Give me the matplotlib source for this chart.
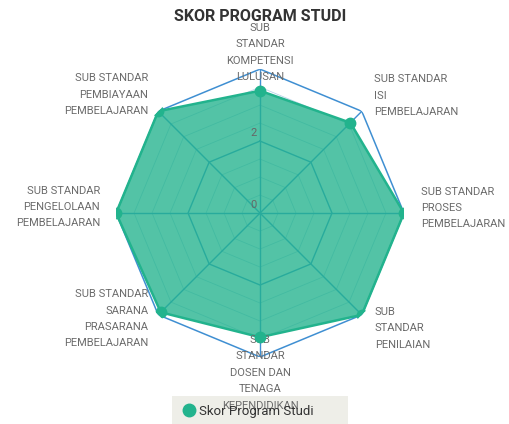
import numpy as np
import matplotlib.pyplot as plt
from matplotlib.lines import Line2D
from matplotlib.patches import Rectangle

plt.rcParams['font.family'] = ['Roboto', 'DejaVu Sans']

# data
labels = [
    "SUB\nSTANDAR\nKOMPETENSI\nLULUSAN",
    "SUB STANDAR\nISI\nPEMBELAJARAN",
    "SUB STANDAR\nPROSES\nPEMBELAJARAN",
    "SUB\nSTANDAR\nPENILAIAN",
    "SUB\nSTANDAR\nDOSEN DAN\nTENAGA\nKEPENDIDIKAN",
    "SUB STANDAR\nSARANA\nPRASARANA\nPEMBELAJARAN",
    "SUB STANDAR\nPENGELOLAAN\nPEMBELAJARAN",
    "SUB STANDAR\nPEMBIAYAAN\nPEMBELAJARAN",
]
scores = [3.4, 3.55, 4.0, 4.0, 3.45, 3.9, 4.0, 4.0]
series_name = "Skor Program Studi"
tick_values = [0, 2]
r_max = 4

# label placement (offset in pixels from outer vertex, alignment)
label_pos = [
    ((0, -13), 'center', 'bottom'),
    ((12, -6), 'left', 'bottom'),
    ((17, 5), 'left', 'center'),
    ((13, 8), 'left', 'top'),
    ((0, 22), 'center', 'top'),
    ((-10, -4), 'right', 'center'),
    ((-16, 6), 'right', 'center'),
    ((-10, -5), 'right', 'bottom'),
]

teal = '#22b38d'
blue = '#3f8fd2'

fig = plt.figure(figsize=[5.1, 4.24], dpi=100)

# legend background box (behind everything)
fig.patches.append(Rectangle((172 / 510, 0), 176 / 510, 28 / 424,
                             transform=fig.transFigure, facecolor='#eeeee8',
                             edgecolor='none', zorder=-1))

ax = fig.add_axes([0.2275, 0.158, 0.5647, 0.679], projection='polar')
ax.set_theta_zero_location('N')
ax.set_theta_direction(-1)
ax.set_ylim(0, r_max)
ax.grid(False)
ax.set_xticks([])
ax.set_yticks([])
ax.spines['polar'].set_visible(False)
ax.patch.set_alpha(0)

n = len(labels)
theta = np.linspace(0, 2 * np.pi, n, endpoint=False)
tc = np.append(theta, theta[0])

# polygon grid
for r in np.arange(0.5, r_max, 0.5):
    c = blue if r % 2 == 0 else '#b9d4ea'
    lw = 1.0 if r % 2 == 0 else 0.6
    ax.plot(tc, [r] * (n + 1), color=c, lw=lw, zorder=1)
ax.plot(tc, [r_max] * (n + 1), color=blue, lw=1.1, zorder=1)
for t in theta:
    ax.plot([t, t], [0, r_max], color=blue, lw=1.0, zorder=1)

# data
sc = scores + scores[:1]
ax.fill(tc, sc, color=teal, alpha=0.78, zorder=2, lw=0)
ax.plot(tc, sc, color=teal, lw=1.8, zorder=3)
ax.plot(theta, scores, 'o', color=teal, ms=7.5, zorder=4)

# tick labels
for v in tick_values:
    ax.annotate(str(v), xy=(0, v), xytext=(-3, 3), textcoords='offset pixels',
                ha='right', va='bottom', fontsize=8, color='#666666', zorder=5)

# axis labels
for t, lab, (off, ha, va) in zip(theta, labels, label_pos):
    ax.annotate(lab, xy=(t, r_max), xytext=off, textcoords='offset pixels',
                ha=ha, va=va, fontsize=8, color='#6b6b6b', linespacing=1.8,
                annotation_clip=False)

fig.text(0.51, 0.962, "SKOR PROGRAM STUDI", ha='center', va='center',
         fontsize=11.5, fontweight='bold', color='#333333')

handle = Line2D([], [], marker='o', ls='none', color=teal, ms=9)
leg = fig.legend([handle], [series_name], loc='center',
                 bbox_to_anchor=(0.487, 13 / 424), frameon=False,
                 fontsize=9.5, handletextpad=0.25, borderpad=0,
                 borderaxespad=0, handlelength=1.0, labelcolor='#333333')
leg.set_zorder(10)

fig.savefig('out.png', dpi=100)
